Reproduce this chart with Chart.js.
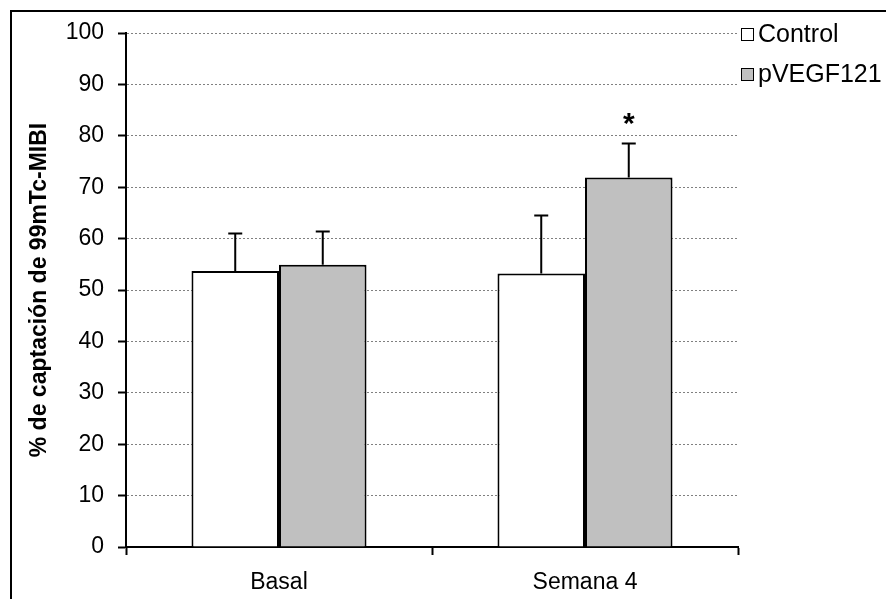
<!DOCTYPE html>
<html>
<head>
<meta charset="utf-8">
<script src="https://cdn.jsdelivr.net/npm/chart.js@4/dist/chart.umd.min.js"></script>
<style>
  body { margin: 0; background: #fff; }
  canvas { display: block; }
</style>
</head>
<body>
<canvas id="captacionChart" width="886" height="599"></canvas>
<script>
// data
const categories = ['Basal', 'Semana 4'];
const seriesNames = ['Control', 'pVEGF121'];
const controlValues = [53.7, 53.2];
const controlErrors = [7.3, 11.3];
const pvegfValues = [54.9, 71.9];
const pvegfErrors = [6.5, 6.6];
const pvegfMarks = ['', '*'];   // significance marks
const yTicks = { min: 0, max: 100, step: 10 };

const FONT = "'Liberation Sans', Arial, sans-serif";
Chart.defaults.color = '#000';

// error bars (upper only) + significance star
const errorBars = {
    id: 'errorBars',
    afterDatasetsDraw(chart) {
        const ctx = chart.ctx;
        const yScale = chart.scales.y;
        ctx.save();
        ctx.strokeStyle = '#000';
        ctx.lineWidth = 2;
        chart.data.datasets.forEach((ds, i) => {
            const meta = chart.getDatasetMeta(i);
            meta.data.forEach((bar, j) => {
                const top = yScale.getPixelForValue(ds.data[j] + ds.errors[j]);
                ctx.beginPath();
                ctx.moveTo(bar.x, bar.y);
                ctx.lineTo(bar.x, top);
                ctx.moveTo(bar.x - 7, top);
                ctx.lineTo(bar.x + 7, top);
                ctx.stroke();
                if (ds.marks && ds.marks[j]) {
                    ctx.fillStyle = '#000';
                    ctx.font = 'bold 30px ' + FONT;
                    ctx.textAlign = 'center';
                    ctx.textBaseline = 'alphabetic';
                    ctx.fillText(ds.marks[j], bar.x, top - 11);
                }
            });
        });
        ctx.restore();
    }
};

// frame around the figure and the legend on the right
const frameAndLegend = {
    id: 'frameAndLegend',
    afterDraw(chart) {
        const ctx = chart.ctx;
        ctx.save();
        ctx.strokeStyle = '#000';
        ctx.lineWidth = 2;
        ctx.strokeRect(11, 11, 1000, 1000);

        ctx.font = '25px ' + FONT;
        ctx.textAlign = 'left';
        ctx.textBaseline = 'middle';
        chart.data.datasets.forEach((ds, i) => {
            const cy = 34 + i * 40;
            ctx.fillStyle = ds.backgroundColor;
            ctx.fillRect(741, cy - 6, 12, 12);
            ctx.lineWidth = 1;
            ctx.strokeRect(741.5, cy - 5.5, 12, 12);
            ctx.fillStyle = '#000';
            ctx.fillText(ds.label, 758, cy + 1);
        });
        ctx.restore();
    }
};

const ctx = document.getElementById('captacionChart').getContext('2d');
new Chart(ctx, {
    type: 'bar',
    data: {
        labels: categories,
        datasets: [
            {
                label: seriesNames[0],
                data: controlValues,
                errors: controlErrors,
                backgroundColor: '#ffffff',
                borderColor: '#000000',
                borderWidth: 2
            },
            {
                label: seriesNames[1],
                data: pvegfValues,
                errors: pvegfErrors,
                marks: pvegfMarks,
                backgroundColor: '#c0c0c0',
                borderColor: '#000000',
                borderWidth: 2
            }
        ]
    },
    options: {
        responsive: false,
        animation: false,
        categoryPercentage: 0.572,
        barPercentage: 1,
        layout: {
            padding: { top: 33, right: 148, bottom: 0, left: 0 }
        },
        scales: {
            x: {
                afterFit: (scale) => { scale.height = 52; },
                grid: {
                    offset: true,
                    drawOnChartArea: false,
                    tickLength: 8,
                    tickColor: '#000',
                    tickWidth: 2
                },
                border: { color: '#000', width: 2 },
                ticks: {
                    font: { family: FONT, size: 23 },
                    padding: 14
                }
            },
            y: {
                min: yTicks.min,
                max: yTicks.max,
                afterFit: (scale) => { scale.width = 126; },
                ticks: {
                    stepSize: yTicks.step,
                    font: { family: FONT, size: 23 },
                    padding: 14
                },
                grid: {
                    color: '#808080',
                    lineWidth: 1,
                    tickLength: 8,
                    tickColor: '#000',
                    tickWidth: 2,
                    tickBorderDash: []
                },
                border: { color: '#000', width: 2, dash: [2, 2] },
                title: {
                    display: true,
                    text: '% de captación de 99mTc-MIBI',
                    font: { family: FONT, size: 23, weight: 'bold' },
                    padding: { top: 26, bottom: 0 }
                }
            }
        },
        plugins: {
            legend: { display: false },
            tooltip: { enabled: false }
        }
    },
    plugins: [errorBars, frameAndLegend]
});
</script>
</body>
</html>
